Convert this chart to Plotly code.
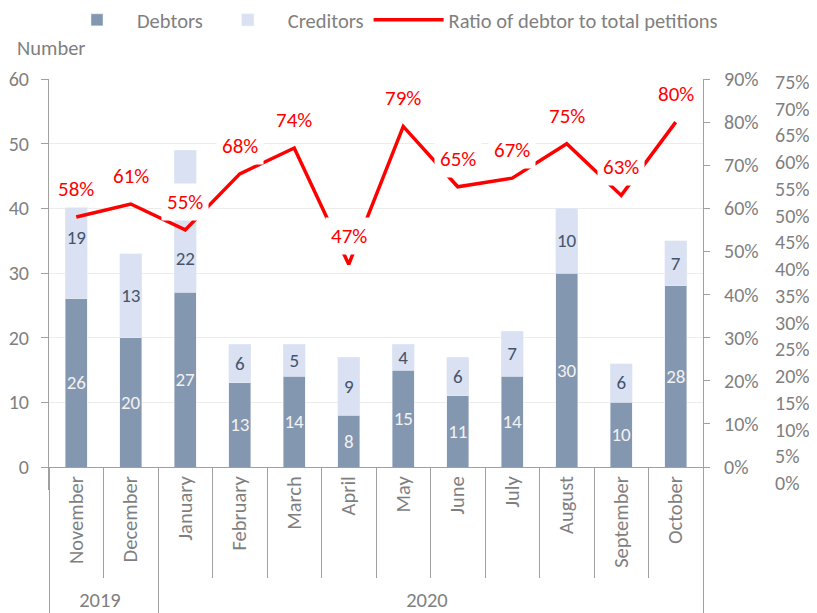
import plotly.graph_objects as go

years = ["2019", "2019", "2020", "2020", "2020", "2020", "2020", "2020", "2020", "2020", "2020", "2020"]
months = ["November", "December", "January", "February", "March", "April", "May",
          "June", "July", "August", "September", "October"]
debtors = [26, 20, 27, 13, 14, 8, 15, 11, 14, 30, 10, 28]
creditors = [19, 13, 22, 6, 5, 9, 4, 6, 7, 10, 6, 7]
ratio = [0.58, 0.61, 0.55, 0.68, 0.74, 0.47, 0.79, 0.65, 0.67, 0.75, 0.63, 0.80]

left_ticks = [0, 10, 20, 30, 40, 50, 60]
right_ticks = [i / 10 for i in range(10)]
right2_ticks = [i / 20 for i in range(16)]

FONT = "Calibri, Carlito, sans-serif"
GRAY = "#7F7F7F"
AXIS = "#A0A0A0"

# page body has an 8px margin: work in target-pixel coords minus 8
OFF = 8
FW, FH = 817 - OFF, 613 - OFF
T = 79 - OFF            # top of plot area (60 / 90%)
ZERO = 467 - OFF        # y pixel of zero line
B = 490 - OFF           # bottom of plot area (for the third axis)
L = 49 - OFF            # left axis
XR = 703 - OFF          # right end of x axis
R = 814 - OFF           # right end of plot area
H = B - T
W = R - L
frac0 = (B - ZERO) / (ZERO - T)

# third axis: 75% at target y=82, 0% at target y=483
a3_top, a3_bot = 82 - OFF, 483 - OFF
a3_per_px = 0.75 / (a3_bot - a3_top)
a3_range = [-(B - a3_bot) * a3_per_px, 0.75 + (a3_top - T) * a3_per_px]

x = [years, months]

cred_text = [str(v) for v in creditors]
cred_text[2] = "\u00a0<br>\u00a0<br>\u00a0<br>" + cred_text[2]

fig = go.Figure()
fig.add_trace(go.Bar(
    x=x, y=debtors, name="Debtors", marker_color="#8497B0",
    text=[str(v) for v in debtors], textposition="inside", insidetextanchor="middle",
    textangle=0, constraintext="none",
    textfont=dict(color="#F2F2F2", size=19, family=FONT), yaxis="y"))
fig.add_trace(go.Bar(
    x=x, y=creditors, name="Creditors", marker_color="#D9E1F2",
    text=cred_text, textposition="inside", insidetextanchor="middle",
    textangle=0, constraintext="none",
    textfont=dict(color="#44546A", size=19, family=FONT), yaxis="y"))
fig.add_trace(go.Scatter(
    x=x, y=ratio, name="Ratio of debtor to total petitions", mode="lines",
    line=dict(color="#FF0000", width=3.5), yaxis="y2"))
# empty trace so the secondary percentage axis is drawn
fig.add_trace(go.Scatter(
    x=x, y=[None] * len(months), mode="markers", showlegend=False,
    hoverinfo="skip", yaxis="y3"))

for i, r in enumerate(ratio):
    fig.add_annotation(x=i, y=r, xref="x", yref="y2", text=f"{r:.0%}",
                       showarrow=False, yshift=28, bgcolor="white", borderpad=5,
                       font=dict(color="#FF0000", size=21, family=FONT))

fig.add_annotation(x=(15 - OFF - L) / W, y=1 + (T - (48 - OFF)) / H, xref="paper", yref="paper",
                   text="Number", showarrow=False, xanchor="left", yanchor="middle",
                   font=dict(color=GRAY, size=20.5, family=FONT))

fig.update_layout(
    width=FW, height=FH,
    margin=dict(l=L, r=FW - R, t=T, b=FH - B, autoexpand=False),
    barmode="stack", bargap=0.59,
    paper_bgcolor="white", plot_bgcolor="white",
    font=dict(family=FONT, color=GRAY, size=20),
    showlegend=True,
    legend=dict(orientation="h", x=(390 - OFF - L) / W, xanchor="center",
                y=1 + (T - (20 - OFF)) / H, yanchor="middle", itemwidth=70,
                font=dict(size=20.5, color=GRAY, family=FONT), traceorder="normal"),
    xaxis=dict(type="multicategory", domain=[0, (XR - L) / W], anchor="free",
               position=(B - ZERO) / H, range=[-0.5, len(months) - 0.5],
               showline=True, linecolor=AXIS, ticks="outside", ticklen=110,
               tickcolor=AXIS, tickangle=-90, showdividers=True,
               dividercolor=AXIS, dividerwidth=1,
               tickfont=dict(size=20.5, color=GRAY, family=FONT)),
    yaxis=dict(range=[-60 * frac0, 60], tickvals=left_ticks, showgrid=True,
               gridcolor="#ECECEC", zeroline=False, showline=True, linecolor=AXIS,
               ticks="outside", ticklen=7, tickcolor=AXIS, ticklabelstandoff=8,
               tickfont=dict(size=20, color=GRAY, family=FONT)),
    yaxis2=dict(range=[-0.9 * frac0, 0.9], tickvals=right_ticks, tickformat=".0%",
                overlaying="y", side="right", anchor="x", showgrid=False,
                zeroline=False, showline=True, linecolor=AXIS, ticks="outside",
                ticklen=6, tickcolor=AXIS, ticklabelstandoff=10,
                tickfont=dict(size=20, color=GRAY, family=FONT)),
    yaxis3=dict(range=a3_range, tickvals=right2_ticks, tickformat=".0%",
                overlaying="y", side="right", anchor="free",
                position=(774 - OFF - L) / W,
                showgrid=False, zeroline=False, showline=False, ticks="",
                tickfont=dict(size=20, color=GRAY, family=FONT)),
)

fig.write_html("out.html")
